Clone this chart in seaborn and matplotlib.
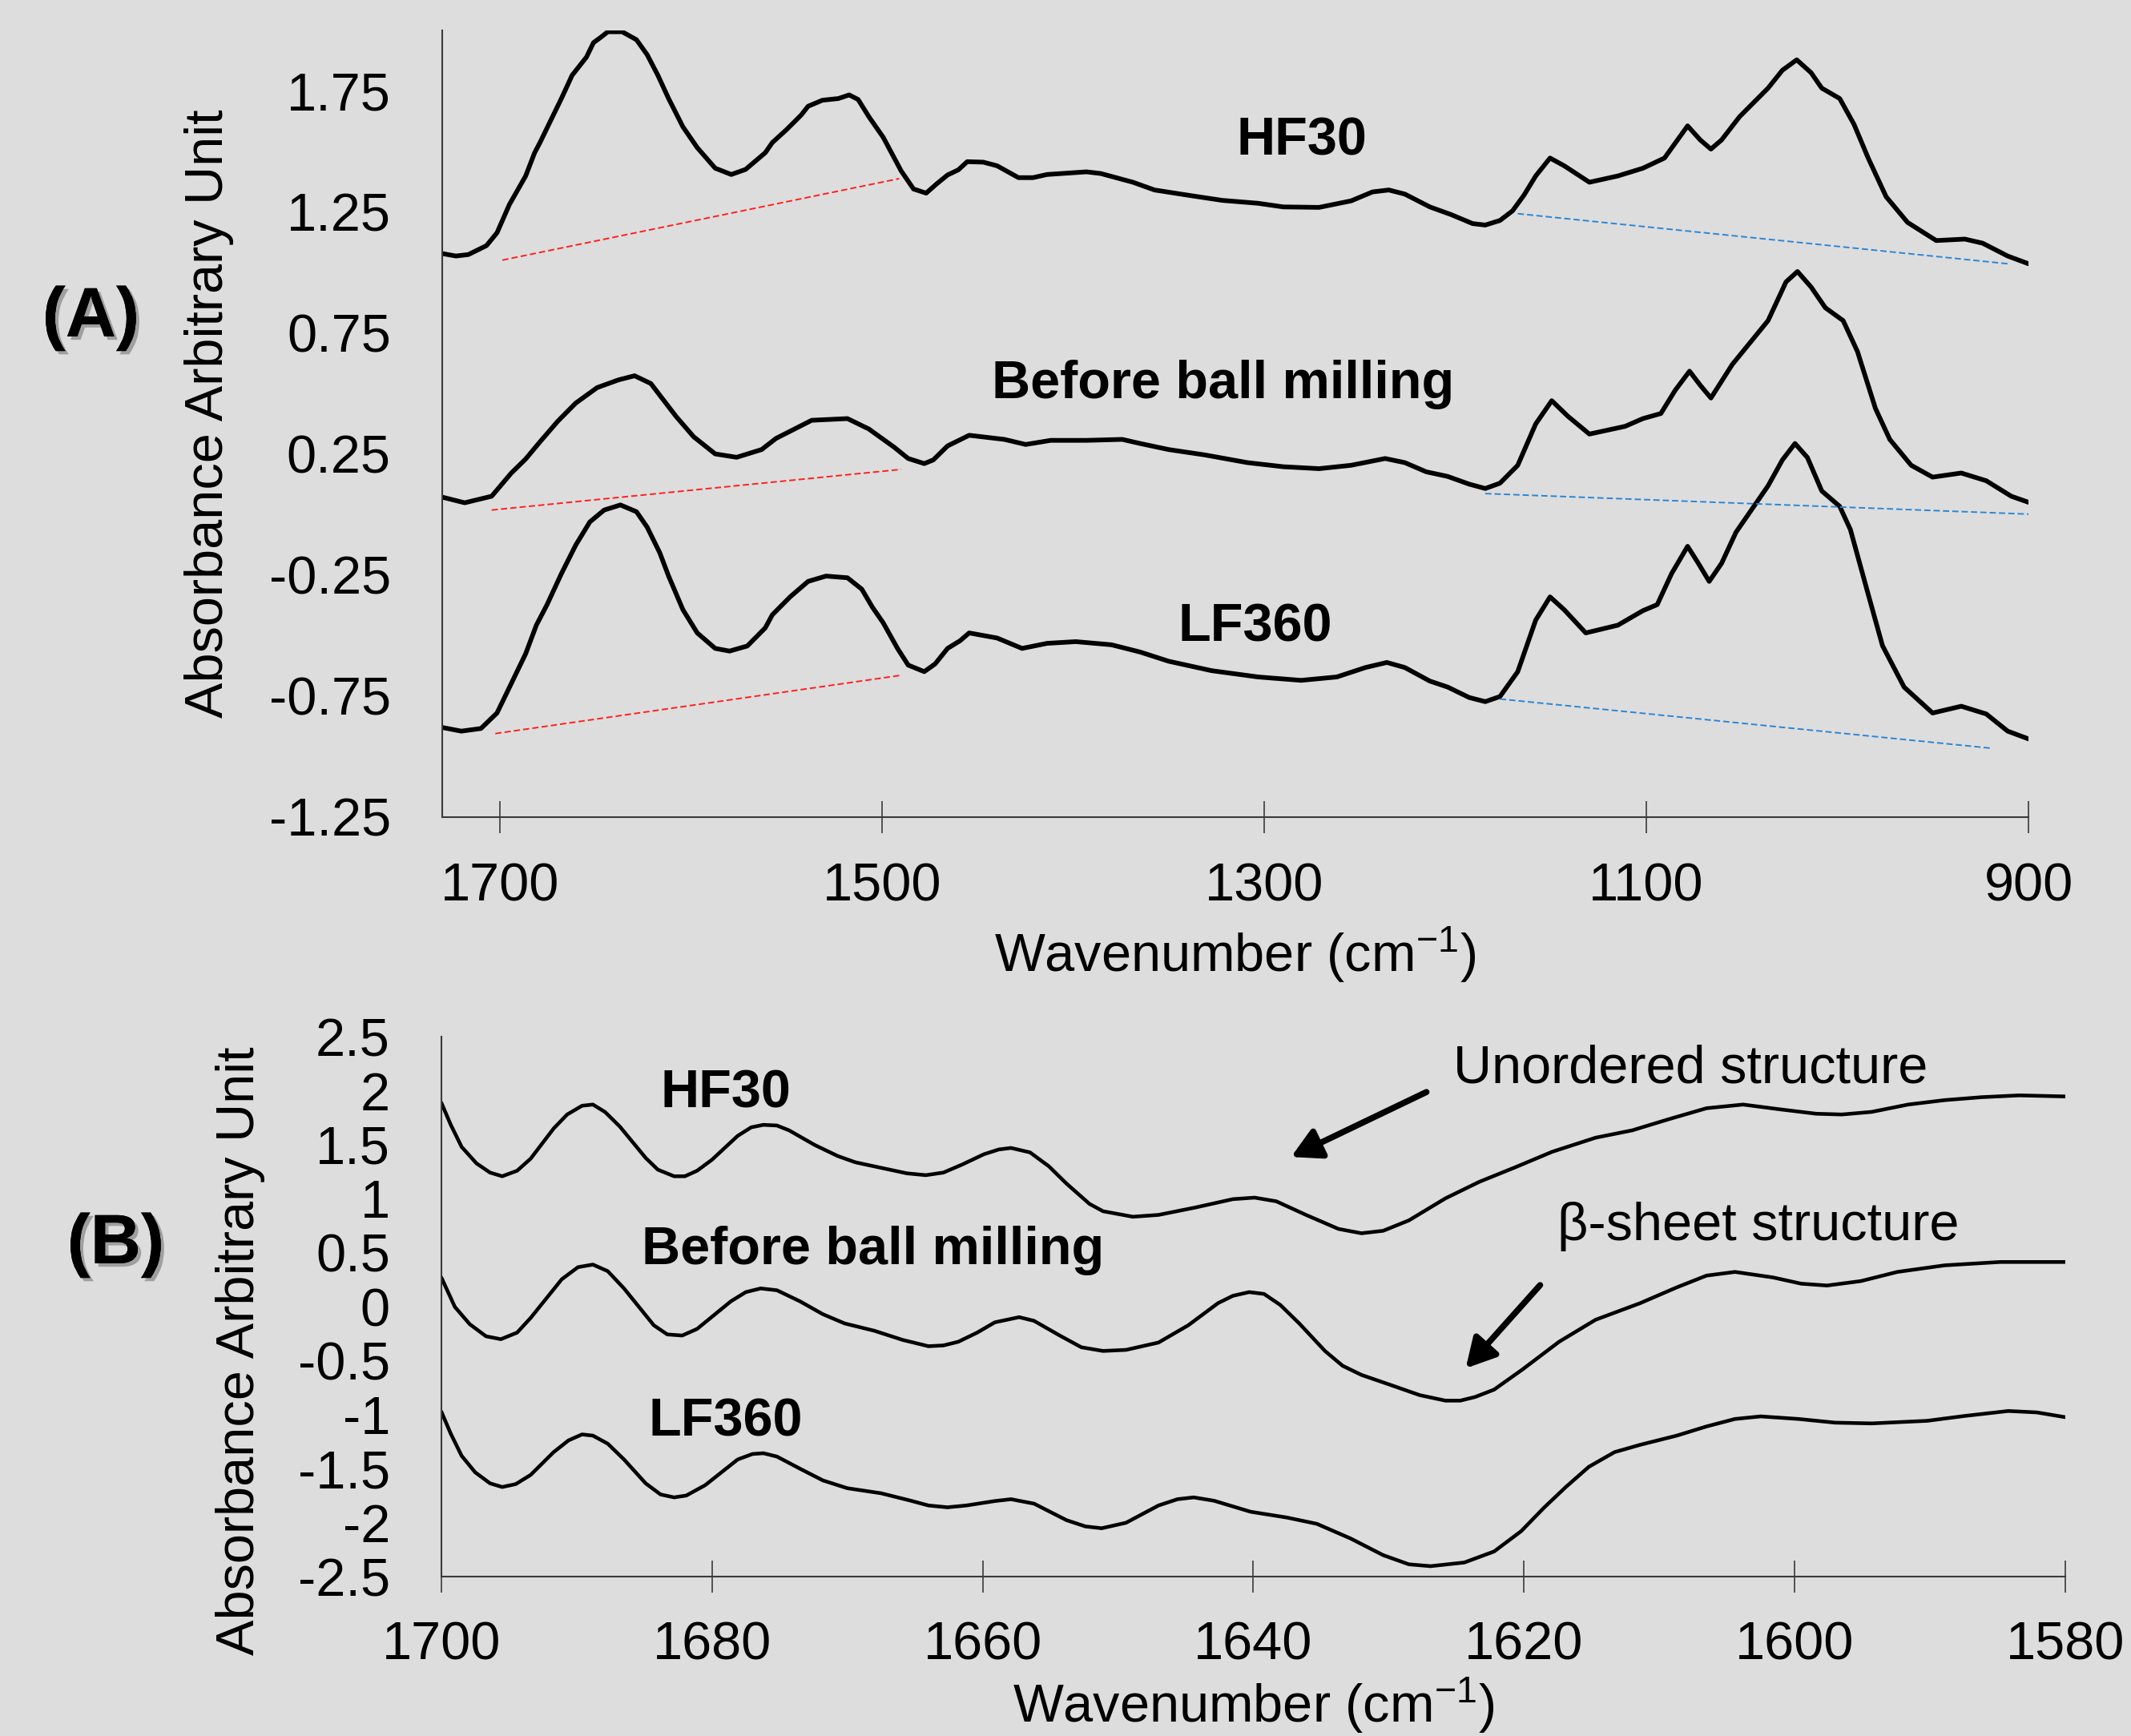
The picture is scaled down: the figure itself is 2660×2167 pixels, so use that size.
import numpy as np
import pandas as pd
import matplotlib
matplotlib.use("Agg")
import matplotlib.pyplot as plt
import matplotlib.patheffects as pe
import seaborn as sns

# ---------------- Panel A data (wavenumber, absorbance) ----------------
a_hf30_w = [1730, 1723, 1716.5, 1707, 1701.5, 1695, 1686.5, 1681.8, 1679, 1674.4, 1667.8, 1662.2,
            1654.7, 1651, 1647.2, 1643.5, 1636, 1628.5, 1622.9, 1617.3, 1611.7, 1604.2, 1596.7,
            1587.3, 1578.9, 1571.4, 1561.1, 1557.4, 1549.9, 1542.4, 1538.7, 1531.2, 1522.8, 1517.2,
            1512.5, 1506.9, 1499.4, 1490, 1483.5, 1476.9, 1471.3, 1465.7, 1460.1, 1455.4, 1447,
            1439.8, 1428.6, 1421, 1413.6, 1393, 1385.5, 1368.7, 1357.4, 1338.7, 1321.9, 1303.2,
            1290, 1271.3, 1254.5, 1243.3, 1234.8, 1226.4, 1213.3, 1202.1, 1190.9, 1184.3, 1176.6,
            1170, 1164, 1157.9, 1150.4, 1143, 1129.8, 1114.9, 1101.8, 1090.5, 1078.4, 1071.8,
            1066.2, 1060.6, 1051.2, 1036.3, 1028.8, 1021.3, 1013.8, 1008.2, 998.8, 991.3, 983.9,
            974.5, 963.3, 948.3, 933.3, 924, 910.9, 900]
a_hf30_v = [1.078, 1.068, 1.074, 1.111, 1.164, 1.281, 1.399, 1.495, 1.537, 1.612, 1.719, 1.815,
            1.890, 1.950, 1.972, 1.995, 1.995, 1.962, 1.900, 1.815, 1.719, 1.602, 1.516,
            1.431, 1.405, 1.426, 1.495, 1.537, 1.591, 1.650, 1.687, 1.712, 1.719, 1.734,
            1.715, 1.644, 1.559, 1.420, 1.345, 1.328, 1.367, 1.403, 1.424, 1.458, 1.456,
            1.441, 1.392, 1.392, 1.405, 1.416, 1.409, 1.373, 1.341, 1.318, 1.298, 1.286,
            1.271, 1.269, 1.296, 1.333, 1.341, 1.324, 1.271, 1.239, 1.202, 1.196, 1.215,
            1.255, 1.320, 1.399, 1.473, 1.441, 1.373, 1.399, 1.431, 1.473, 1.606, 1.548,
            1.510, 1.548, 1.644, 1.762, 1.836, 1.879, 1.826, 1.762, 1.719, 1.612, 1.473,
            1.313, 1.207, 1.132, 1.138, 1.121, 1.068, 1.036]

a_before_w = [1730, 1718.4, 1704.3, 1694, 1686.5, 1679, 1669.7, 1660.3, 1649.1, 1637.9, 1629.5,
              1621, 1607.9, 1598.6, 1587.3, 1576.1, 1563, 1555.5, 1536.8, 1518.1, 1506.9, 1493.7,
              1486.3, 1477.9, 1473.2, 1465.7, 1454.4, 1436, 1424.8, 1411.7, 1393, 1374.3, 1364.9,
              1350, 1331.2, 1308.8, 1290, 1271.3, 1254.5, 1236.7, 1226.4, 1215.2, 1204, 1192.7,
              1184.3, 1176.6, 1167.3, 1157.9, 1149.5, 1141.1, 1129.8, 1111.1, 1101.8, 1092.4,
              1084.9, 1077.4, 1071.8, 1066.2, 1055, 1036.3, 1026.9, 1020.9, 1013.8, 1006.3, 997,
              989.5, 980.1, 972.6, 961.4, 950.2, 935.2, 922.1, 909, 900]
a_before_v = [0.071, 0.048, 0.075, 0.171, 0.229, 0.300, 0.385, 0.460, 0.524, 0.556, 0.573,
              0.541, 0.406, 0.321, 0.250, 0.236, 0.268, 0.314, 0.389, 0.396, 0.353, 0.278,
              0.231, 0.210, 0.225, 0.283, 0.327, 0.310, 0.289, 0.306, 0.306, 0.310, 0.293,
              0.268, 0.246, 0.214, 0.197, 0.189, 0.203, 0.231, 0.214, 0.176, 0.157, 0.125,
              0.107, 0.129, 0.203, 0.374, 0.470, 0.406, 0.332, 0.364, 0.396, 0.417,
              0.513, 0.592, 0.534, 0.481, 0.620, 0.801, 0.961, 1.004, 0.940, 0.854, 0.801,
              0.673, 0.438, 0.310, 0.203, 0.154, 0.171, 0.139, 0.075, 0.050]

a_lf360_w = [1730, 1720.2, 1709.9, 1701.5, 1695, 1686.5, 1680.9, 1675.3, 1667.8, 1660.3, 1652.9,
             1645.4, 1636.9, 1628.5, 1622.9, 1616.3, 1611.7, 1604.2, 1596.7, 1587.3, 1579.8,
             1570.5, 1561.1, 1557.4, 1548.1, 1538.7, 1529.3, 1518.1, 1510.6, 1505, 1499.4,
             1491.9, 1486.3, 1477.9, 1472.2, 1465.7, 1459.1, 1454.4, 1439.8, 1426.7, 1413.6,
             1398.6, 1379.9, 1364.9, 1350, 1327.5, 1303.2, 1280.7, 1262, 1247, 1235.8, 1226.4,
             1213.3, 1203.9, 1192.7, 1184.3, 1176.6, 1167.3, 1157.9, 1150.4, 1143, 1131.7,
             1114.9, 1101.8, 1094.3, 1086.8, 1078.4, 1072.8, 1067.1, 1060.6, 1053.1, 1036.3,
             1028.8, 1022.2, 1015.7, 1008.2, 998.8, 993.2, 983.9, 976.4, 965.1, 950.2, 935.2,
             922.1, 910.9, 900]
a_lf360_v = [-0.881, -0.896, -0.885, -0.821, -0.715, -0.576, -0.458, -0.373, -0.245, -0.127, -0.031,
             0.018, 0.039, 0.011, -0.053, -0.159, -0.255, -0.394, -0.490, -0.554, -0.565,
             -0.544, -0.469, -0.415, -0.341, -0.277, -0.255, -0.262, -0.309, -0.384, -0.448,
             -0.554, -0.623, -0.650, -0.618, -0.554, -0.522, -0.490, -0.511, -0.554, -0.533,
             -0.526, -0.539, -0.569, -0.607, -0.646, -0.672, -0.686, -0.672, -0.633, -0.612, -0.633,
             -0.689, -0.714, -0.757, -0.774, -0.753, -0.650, -0.437, -0.341, -0.394, -0.490,
             -0.458, -0.398, -0.373, -0.245, -0.132, -0.202, -0.277, -0.202, -0.074, 0.118,
             0.225, 0.293, 0.235, 0.097, 0.033, -0.063, -0.330, -0.543, -0.714, -0.821, -0.793,
             -0.825, -0.896, -0.928]

# baselines (start/end points) in panel A
red_hf30_w, red_hf30_v = [1698.7, 1491], [1.051, 1.388]
red_before_w, red_before_v = [1704.3, 1490], [0.018, 0.186]
red_lf360_w, red_lf360_v = [1702.4, 1490], [-0.906, -0.665]
blue_hf30_w, blue_hf30_v = [1167.3, 910.9], [1.243, 1.036]
blue_before_w, blue_before_v = [1184.3, 899.6], [0.086, 0.001]
blue_lf360_w, blue_lf360_v = [1176.6, 920.2], [-0.763, -0.966]

a_yticks = [-1.25, -0.75, -0.25, 0.25, 0.75, 1.25, 1.75]
a_xticks = [1700, 1500, 1300, 1100, 900]

# ---------------- Panel B data ----------------
b_hf30_w = [1700, 1699.3, 1698.5, 1697.4, 1696.4, 1695.5, 1694.4, 1693.4, 1691.7, 1690.7, 1689.6,
            1688.8, 1687.9, 1686.8, 1684.9, 1684, 1682.8, 1682, 1681.1, 1680, 1678.1, 1677.1,
            1676.2, 1675.2, 1674.3, 1672.4, 1670.7, 1669.4, 1667.5, 1665.6, 1664.2, 1662.9,
            1661.5, 1659.9, 1658.8, 1657.9, 1656.5, 1655.1, 1653.8, 1652.1, 1651.1, 1648.9,
            1647, 1644.3, 1641.5, 1639.9, 1638.3, 1636.1, 1633.7, 1632, 1630.4, 1628.5, 1625.8,
            1623.3, 1620.6, 1617.9, 1614.7, 1612, 1609.3, 1606.5, 1603.8, 1601.1, 1598.4,
            1596.5, 1594.3, 1591.6, 1588.9, 1586.2, 1583.4, 1580]
b_hf30_v = [1.889, 1.684, 1.480, 1.327, 1.242, 1.208, 1.259, 1.371, 1.650, 1.780, 1.861,
            1.872, 1.803, 1.667, 1.378, 1.269, 1.208, 1.208, 1.259, 1.361, 1.582, 1.661,
            1.684, 1.678, 1.633, 1.497, 1.395, 1.337, 1.286, 1.235, 1.218, 1.242,
            1.317, 1.412, 1.456, 1.470, 1.429, 1.300, 1.140, 0.952, 0.884, 0.833,
            0.850, 0.918, 0.996, 1.010, 0.976, 0.850, 0.720, 0.680, 0.703, 0.799, 1.003,
            1.156, 1.293, 1.435, 1.565, 1.633, 1.736, 1.838, 1.872, 1.828, 1.787,
            1.780, 1.804, 1.872, 1.913, 1.940, 1.957, 1.947]

b_before_w = [1700, 1699, 1697.9, 1696.7, 1695.6, 1694.4, 1693.4, 1691.1, 1689.9, 1688.8, 1687.7,
              1686.5, 1684.3, 1683.3, 1682.2, 1681.1, 1678.6, 1677.5, 1676.4, 1675.2, 1673.5,
              1671.8, 1670.2, 1668, 1665.9, 1664, 1662.9, 1661.8, 1660.4, 1659.1, 1657.3, 1656.2,
              1654.3, 1652.7, 1651.1, 1649.4, 1647, 1644.8, 1642.6, 1641.5, 1640.3, 1639.2, 1638,
              1636.6, 1634.7, 1633.4, 1632, 1629.8, 1627.7, 1625.8, 1624.7, 1623.6, 1622.2,
              1620.1, 1617.4, 1614.7, 1611.4, 1608.7, 1606.5, 1604.4, 1601.6, 1599.5, 1597.6,
              1595.1, 1592.4, 1588.9, 1584.8, 1580]
b_before_v = [0.271, -0.002, -0.162, -0.274, -0.301, -0.240, -0.104, 0.254, 0.366, 0.390, 0.329,
              0.169, -0.172, -0.257, -0.267, -0.206, 0.050, 0.135, 0.169, 0.152, 0.050,
              -0.070, -0.155, -0.223, -0.308, -0.366, -0.359, -0.325, -0.240, -0.145, -0.097, -0.131,
              -0.267, -0.376, -0.410, -0.400, -0.332, -0.172, 0.033, 0.101, 0.135, 0.118, 0.016,
              -0.155, -0.410, -0.547, -0.632, -0.727, -0.819, -0.870, -0.870, -0.836, -0.768,
              -0.581, -0.325, -0.121, 0.033, 0.179, 0.288, 0.322, 0.271, 0.213, 0.196,
              0.237, 0.322, 0.383, 0.414, 0.414]

b_lf360_w = [1700, 1699.3, 1698.5, 1697.5, 1696.4, 1695.5, 1694.5, 1693.4, 1691.7, 1690.6, 1689.6,
             1688.8, 1687.7, 1686.5, 1684.9, 1683.8, 1682.8, 1681.9, 1680.5, 1678.1, 1677, 1676.2,
             1675.2, 1673.5, 1671.8, 1670, 1667.5, 1665.3, 1664, 1662.6, 1661.2, 1659.1, 1657.9,
             1656.2, 1653.8, 1652.4, 1651.2, 1649.4, 1647, 1645.6, 1644.4, 1642.9, 1640.2,
             1637.5, 1635.3, 1632.8, 1630.4, 1628.5, 1626.9, 1624.4, 1622.2, 1620.2, 1618.5,
             1616.9, 1615.2, 1613.3, 1611.4, 1608.7, 1606.5, 1604.4, 1602.5, 1599.7, 1597,
             1594.3, 1590.2, 1587.5, 1584.2, 1582.1, 1580]
b_lf360_v = [-0.972, -1.177, -1.381, -1.534, -1.636, -1.670, -1.643, -1.558, -1.347, -1.238, -1.183,
             -1.194, -1.269, -1.415, -1.636, -1.739, -1.766, -1.749, -1.653, -1.415, -1.364, -1.357,
             -1.388, -1.500, -1.609, -1.681, -1.728, -1.797, -1.841, -1.858, -1.841, -1.800, -1.783,
             -1.824, -1.977, -2.035, -2.052, -2.001, -1.841, -1.783, -1.766, -1.797, -1.899,
             -1.953, -2.011, -2.147, -2.301, -2.386, -2.403, -2.369, -2.267, -2.079, -1.860,
             -1.670, -1.483, -1.347, -1.279, -1.194, -1.109, -1.040, -1.016, -1.040, -1.074,
             -1.081, -1.057, -1.013, -0.966, -0.979, -1.023]

b_yticks = [-2.5, -2, -1.5, -1, -0.5, 0, 0.5, 1, 1.5, 2, 2.5]
b_xticks = [1700, 1680, 1660, 1640, 1620, 1600, 1580]

sample_names = ["HF30", "Before ball milling", "LF360"]

# ---------------- style ----------------
sns.set_theme(style="white")
plt.rcParams["font.family"] = ["Liberation Sans", "DejaVu Sans"]
plt.rcParams["axes.unicode_minus"] = False
plt.rcParams["mathtext.fontset"] = "custom"
plt.rcParams["mathtext.rm"] = "Liberation Sans"
plt.rcParams["mathtext.it"] = "Liberation Sans:italic"
plt.rcParams["mathtext.bf"] = "Liberation Sans:bold"
plt.rcParams["text.color"] = "black"
plt.rcParams["axes.labelcolor"] = "black"
plt.rcParams["xtick.labelcolor"] = "black"
plt.rcParams["ytick.labelcolor"] = "black"

BG = "#DDDDDD"
SPINE = "#3A3A3A"
FS = 48

fig = plt.figure(figsize=(26.6, 21.67), dpi=100, facecolor=BG)
axA = fig.add_axes([0.2074, 0.5295, 0.7445, 0.4529])
axB = fig.add_axes([0.2071, 0.0918, 0.7620, 0.3110])

for ax in (axA, axB):
    ax.set_facecolor(BG)
    for s in ("top", "right"):
        ax.spines[s].set_visible(False)
    for s in ("left", "bottom"):
        ax.spines[s].set_color(SPINE)
        ax.spines[s].set_linewidth(1.5)

# ---- Panel A curves ----
dfA = pd.concat([
    pd.DataFrame({"w": a_hf30_w, "v": a_hf30_v, "s": sample_names[0]}),
    pd.DataFrame({"w": a_before_w, "v": a_before_v, "s": sample_names[1]}),
    pd.DataFrame({"w": a_lf360_w, "v": a_lf360_v, "s": sample_names[2]}),
])
for name in sample_names:
    d = dfA[dfA["s"] == name]
    sns.lineplot(x=d["w"], y=d["v"], ax=axA, color="black", lw=4.2, sort=False,
                 estimator=None, solid_joinstyle="round", solid_capstyle="round")

for (xw, yv) in [(red_hf30_w, red_hf30_v), (red_before_w, red_before_v), (red_lf360_w, red_lf360_v)]:
    axA.plot(xw, yv, color="#FF2020", lw=1.4, ls=(0, (4, 2)))
for (xw, yv) in [(blue_hf30_w, blue_hf30_v), (blue_before_w, blue_before_v), (blue_lf360_w, blue_lf360_v)]:
    axA.plot(xw, yv, color="#2A86D6", lw=1.4, ls=(0, (4, 2)))

axA.set_xlim(1730.3, 900)
axA.set_ylim(-1.25, 2.0)
axA.set_xticks(a_xticks)
axA.set_xticklabels([str(t) for t in a_xticks])
axA.set_yticks(a_yticks)
axA.set_yticklabels([f"{t:.2f}" for t in a_yticks])
axA.tick_params(axis="x", direction="inout", length=29.5, width=1.2, color=SPINE,
                pad=26.5, labelsize=FS, bottom=True, labelcolor="black")
axA.tick_params(axis="y", length=0, pad=46, labelsize=FS, left=False, labelcolor="black")
axA.set_xlabel("Wavenumber (cm$^{-1}$)", fontsize=FS, va="baseline", color="black")
axA.xaxis.set_label_coords(0.5, -0.1972)
axA.set_ylabel("Absorbance Arbitrary Unit", fontsize=FS, va="baseline", color="black")
axA.yaxis.set_label_coords(-0.1382, 0.5126)

axA.text(1280.3, 1.484, "HF30", fontsize=FS, fontweight="bold", ha="center", va="baseline", color="black")
axA.text(1321.4, 0.480, "Before ball milling", fontsize=FS, fontweight="bold", ha="center", va="baseline", color="black")
axA.text(1304.6, -0.523, "LF360", fontsize=FS, fontweight="bold", ha="center", va="baseline", color="black")

# ---- Panel B curves ----
dfB = pd.concat([
    pd.DataFrame({"w": b_hf30_w, "v": b_hf30_v, "s": sample_names[0]}),
    pd.DataFrame({"w": b_before_w, "v": b_before_v, "s": sample_names[1]}),
    pd.DataFrame({"w": b_lf360_w, "v": b_lf360_v, "s": sample_names[2]}),
])
for name in sample_names:
    d = dfB[dfB["s"] == name]
    sns.lineplot(x=d["w"], y=d["v"], ax=axB, color="black", lw=3.3, sort=False,
                 estimator=None, solid_joinstyle="round", solid_capstyle="round")

axB.set_xlim(1700, 1580)
axB.set_ylim(-2.5, 2.5)
axB.set_xticks(b_xticks)
axB.set_xticklabels([str(t) for t in b_xticks])
axB.set_yticks(b_yticks)
axB.set_yticklabels([f"{t:g}" for t in b_yticks])
axB.tick_params(axis="x", direction="inout", length=29.5, width=1.2, color=SPINE,
                pad=25, labelsize=FS, bottom=True, labelcolor="black")
axB.tick_params(axis="y", length=0, pad=46, labelsize=FS, left=False, labelcolor="black")
axB.set_xlabel("Wavenumber (cm$^{-1}$)", fontsize=FS, va="baseline", color="black")
axB.xaxis.set_label_coords(0.5, -0.2700)
axB.set_ylabel("Absorbance Arbitrary Unit", fontsize=FS, va="baseline", color="black")
axB.yaxis.set_label_coords(-0.1154, 0.419)

axB.text(1679.0, 1.847, "HF30", fontsize=FS, fontweight="bold", ha="center", va="baseline", color="black")
axB.text(1668.1, 0.393, "Before ball milling", fontsize=FS, fontweight="bold", ha="center", va="baseline", color="black")
axB.text(1679.0, -1.194, "LF360", fontsize=FS, fontweight="bold", ha="center", va="baseline", color="black")
axB.text(1607.7, 2.077, "Unordered structure", fontsize=FS, ha="center", va="baseline", color="black")
axB.text(1602.7, 0.616, "\u03b2-sheet structure", fontsize=FS, ha="center", va="baseline", color="black")

arrow_kw = dict(arrowstyle="-|>,head_length=0.55,head_width=0.3", color="black", lw=5.5,
                shrinkA=0, shrinkB=0, mutation_scale=40)
axB.annotate("", xy=(1637.2, 1.387), xytext=(1627.2, 1.988), arrowprops=arrow_kw)
axB.annotate("", xy=(1624.3, -0.571), xytext=(1618.8, 0.200), arrowprops=arrow_kw)

# panel letters with soft shadow
shadow = [pe.withSimplePatchShadow(offset=(3, -3), shadow_rgbFace="#777777", alpha=0.6), pe.Normal()]
fig.text(113.5 / 2660, 1 - 420 / 2167, "(A)", fontsize=63, fontweight="bold", ha="center",
         va="baseline", path_effects=shadow, color="black")
fig.text(144.5 / 2660, 1 - 1577 / 2167, "(B)", fontsize=63, fontweight="bold", ha="center",
         va="baseline", path_effects=shadow, color="black")

fig.savefig("out.png", dpi=100, facecolor=BG)
